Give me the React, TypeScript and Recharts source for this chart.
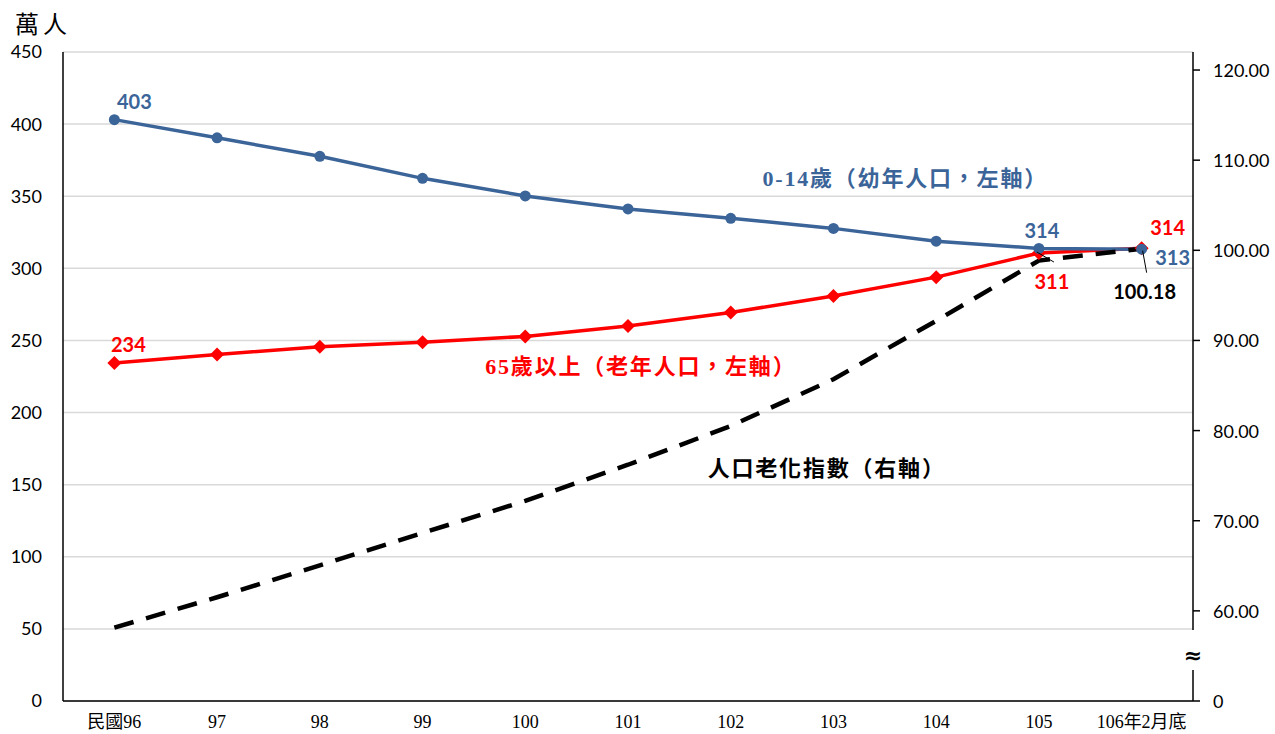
import React from 'react';
import { LineChart, Line, XAxis, YAxis, CartesianGrid } from 'recharts';

const years = ['民國96', '97', '98', '99', '100', '101', '102', '103', '104', '105', '106年2月底'];
const youth = [403.1, 390.5, 377.7, 362.4, 350.2, 341.2, 334.7, 327.7, 318.8, 313.8, 313.3];
const elderly = [234.3, 240.2, 245.7, 248.8, 252.8, 260.0, 269.4, 280.8, 293.9, 310.6, 313.9];
const agingIndex = [58.13, 61.51, 65.05, 68.64, 72.2, 76.21, 80.51, 85.7, 92.18, 98.86, 100.18];
const leftTicks = [0, 50, 100, 150, 200, 250, 300, 350, 400, 450];
const rightTicks = [50, 60, 70, 80, 90, 100, 110, 120];

const data = years.map((y, i) => ({ year: y, youth: youth[i], elderly: elderly[i], aging: agingIndex[i] }));

const BLUE = '#3B6499';
const RED = '#FF0000';
const NUM_FONT = 'Lato, "Open Sans", sans-serif';
const SERIF = '"Liberation Serif", "Noto Sans CJK TC", serif';

const RightTick = (p: any) => {
  const { x, y, payload } = p;
  const v = payload.value;
  const label = v === 50 ? '0' : v.toFixed(2);
  const ax = x - 20;
  return (
    <g>
      {v === 50 && (
        <g>
          <rect x={ax - 4} y={y - 71} width={8} height={40} fill="#fff" />
          <text x={ax} y={y - 46} textAnchor="middle" dominantBaseline="central" fontFamily='"DejaVu Sans", sans-serif' fontWeight="bold" fontSize={22} fill="#000">≈</text>
        </g>
      )}
      <text x={x} y={y} textAnchor="start" dominantBaseline="central" fontFamily={NUM_FONT} fontSize={18} fill="#000">{label}</text>
    </g>
  );
};

const Diamond = (p: any) => {
  const { cx, cy, index } = p;
  if (cx == null || cy == null) return <g key={index} />;
  const s = 7;
  return <polygon key={index} points={`${cx},${cy - s} ${cx + s},${cy} ${cx},${cy + s} ${cx - s},${cy}`} fill={RED} />;
};

const numLabel = (x: number, y: number, text: string, color: string) => (
  <text x={x} y={y} textAnchor="middle" dominantBaseline="central" fontFamily={NUM_FONT} fontWeight="bold" fontSize={20} fill={color}>{text}</text>
);

const nameLabel = (x: number, y: number, text: string, color: string) => (
  <text x={x} y={y} textAnchor="start" dominantBaseline="central" fontFamily={SERIF} fontWeight="bold" fontSize={22} letterSpacing={1.8} fill={color}>{text}</text>
);

const blueLabel = (p: any) => {
  const { x, y, index, value } = p;
  const v = Math.round(value).toString();
  if (index === 0) return <g>{numLabel(x + 20, y - 19, v, BLUE)}</g>;
  if (index === 7) return <g>{nameLabel(x - 71, y - 50, '0-14歲（幼年人口，左軸）', BLUE)}</g>;
  if (index === 9) return <g>{numLabel(x + 3, y - 18, v, BLUE)}</g>;
  if (index === 10) return <g>{numLabel(x + 31, y + 8, v, BLUE)}</g>;
  return <g />;
};

const redLabel = (p: any) => {
  const { x, y, index, value } = p;
  const v = Math.round(value).toString();
  if (index === 0) return <g>{numLabel(x + 14, y - 19, v, RED)}</g>;
  if (index === 4) return <g>{nameLabel(x - 40, y + 30, '65歲以上（老年人口，左軸）', RED)}</g>;
  if (index === 9)
    return (
      <g>
        <line x1={x - 2} y1={y - 1} x2={x + 15} y2={y + 9} stroke="#000" strokeWidth={1} />
        {numLabel(x + 13, y + 28, v, RED)}
      </g>
    );
  if (index === 10) return <g>{numLabel(x + 26, y - 21, v, RED)}</g>;
  return <g />;
};

const agingLabel = (p: any) => {
  const { x, y, index, value } = p;
  if (index === 6) return <g>{nameLabel(x - 23, y + 43, '人口老化指數（右軸）', '#000')}</g>;
  if (index === 10)
    return (
      <g>
        <line x1={x + 1} y1={y + 2} x2={x + 5} y2={y + 24} stroke="#000" strokeWidth={1} />
        {numLabel(x + 3, y + 42, value.toFixed(2), '#000')}
      </g>
    );
  return <g />;
};

export default function App() {
  return (
    <div style={{ position: 'absolute', left: 0, top: 0, width: 1275, height: 734, background: '#fff' }}>
      <div style={{ position: 'absolute', left: 15, top: 8, fontFamily: SERIF, fontSize: 24, letterSpacing: 4, color: '#000', lineHeight: '34px' }}>萬人</div>
      <LineChart width={1275} height={734} data={data} margin={{ top: 52, right: 0, left: 0, bottom: 0 }}>
        <CartesianGrid yAxisId="left" vertical={false} stroke="#d9d9d9" strokeWidth={1.5} />
        <XAxis
          dataKey="year"
          scale="band"
          height={33}
          tickLine={false}
          tickSize={0}
          tickMargin={14}
          axisLine={{ stroke: '#000', strokeWidth: 1.5 }}
          tick={{ fontFamily: SERIF, fontSize: 18, fill: '#000' }}
          interval={0}
        />
        <YAxis
          yAxisId="left"
          orientation="left"
          width={63}
          domain={[0, 450]}
          ticks={leftTicks}
          tickLine={false}
          tickSize={0}
          tickMargin={21}
          axisLine={{ stroke: '#000', strokeWidth: 1.5 }}
          tick={{ fontFamily: NUM_FONT, fontSize: 18, fill: '#000' }}
          interval={0}
        />
        <YAxis
          yAxisId="right"
          orientation="right"
          width={82}
          domain={[50, 122]}
          ticks={rightTicks}
          tickSize={7}
          tickMargin={13}
          tickLine={{ stroke: '#000', strokeWidth: 1.5 }}
          axisLine={{ stroke: '#000', strokeWidth: 1.5 }}
          tick={RightTick}
          interval={0}
          allowDataOverflow
        />
        <Line
          yAxisId="left"
          dataKey="elderly"
          stroke={RED}
          strokeWidth={3.5}
          dot={Diamond}
          activeDot={false}
          isAnimationActive={false}
          label={redLabel}
        />
        <Line
          yAxisId="left"
          dataKey="youth"
          stroke={BLUE}
          strokeWidth={3.5}
          dot={{ r: 5.5, fill: BLUE, stroke: BLUE, strokeWidth: 0 }}
          activeDot={false}
          isAnimationActive={false}
          label={blueLabel}
        />
        <Line
          yAxisId="right"
          dataKey="aging"
          stroke="#000"
          strokeWidth={4.5}
          strokeDasharray="20 13"
          dot={false}
          activeDot={false}
          isAnimationActive={false}
          label={agingLabel}
        />
      </LineChart>
    </div>
  );
}
